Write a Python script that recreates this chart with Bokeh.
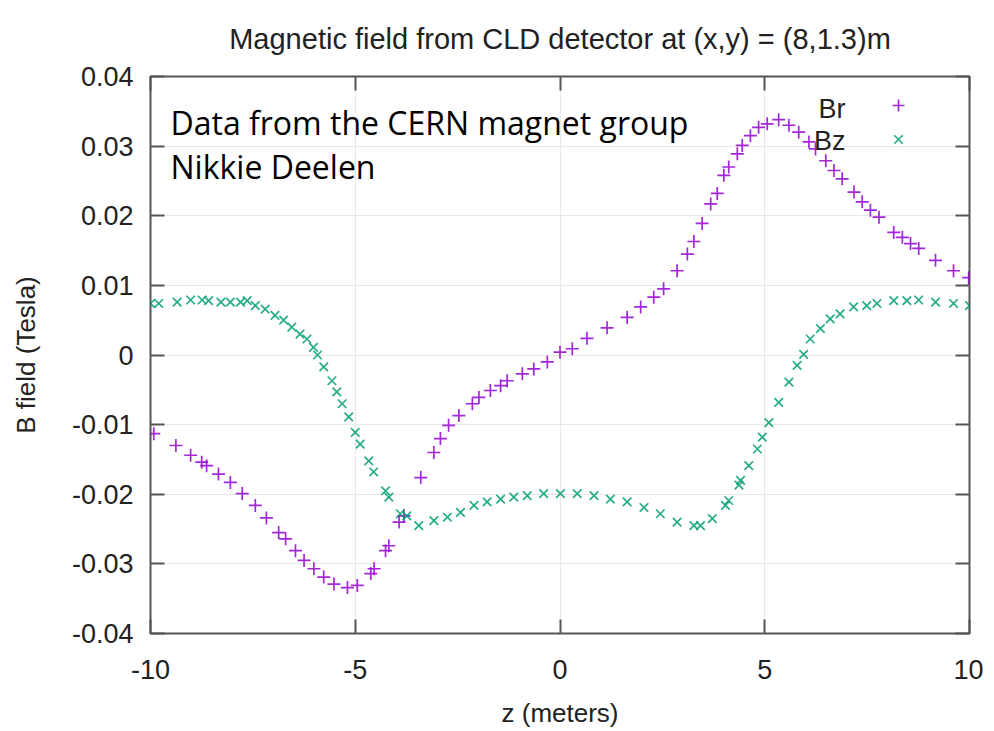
from bokeh.plotting import figure
from bokeh.models import (LinearAxis, FixedTicker, Label, Legend, LegendItem, Range1d)
from bokeh.core.properties import value
from bokeh.embed import file_html
from bokeh.resources import INLINE

# ---------------- data ----------------
br_z = [-9.92, -9.38, -9.02, -8.75, -8.63, -8.34, -8.05, -7.76, -7.44, -7.17,
        -6.87, -6.70, -6.46, -6.25, -6.01, -5.77, -5.52, -5.19, -4.95, -4.62,
        -4.54, -4.26, -4.18, -3.93, -3.81, -3.40, -3.08, -2.92, -2.72, -2.47,
        -2.14, -1.98, -1.70, -1.45, -1.29, -0.92, -0.64, -0.31, 0.00, 0.30,
        0.66, 1.15, 1.64, 1.97, 2.29, 2.53, 2.86, 3.11, 3.27, 3.47,
        3.68, 3.84, 4.00, 4.12, 4.33, 4.45, 4.65, 4.85, 5.06, 5.34,
        5.59, 5.83, 6.08, 6.24, 6.49, 6.69, 6.89, 7.18, 7.38, 7.58,
        7.79, 8.15, 8.36, 8.56, 8.76, 9.17, 9.61, 9.98]
br_b = [-0.0113, -0.0130, -0.0144, -0.0154, -0.0159, -0.0171, -0.0183, -0.0199, -0.0216, -0.0234,
        -0.0255, -0.0264, -0.0281, -0.0295, -0.0307, -0.0319, -0.0329, -0.0334, -0.0331, -0.0314,
        -0.0307, -0.0281, -0.0274, -0.0240, -0.0231, -0.0176, -0.0140, -0.0120, -0.0101, -0.0087,
        -0.0070, -0.0061, -0.0051, -0.0044, -0.0037, -0.0027, -0.0020, -0.0010, 0.0004, 0.0009,
        0.0024, 0.0039, 0.0054, 0.0069, 0.0083, 0.0095, 0.0121, 0.0145, 0.0163, 0.0189,
        0.0217, 0.0232, 0.0258, 0.0270, 0.0289, 0.0301, 0.0315, 0.0327, 0.0332, 0.0338,
        0.0330, 0.0320, 0.0306, 0.0296, 0.0279, 0.0265, 0.0253, 0.0234, 0.0220, 0.0208,
        0.0198, 0.0176, 0.0169, 0.0160, 0.0153, 0.0136, 0.0121, 0.0111]

bz_z = [-10.0, -9.80, -9.35, -9.02, -8.74, -8.58, -8.28, -8.05, -7.80, -7.64,
        -7.44, -7.20, -6.96, -6.75, -6.55, -6.35, -6.18, -6.02, -5.92, -5.77,
        -5.57, -5.45, -5.32, -5.16, -5.00, -4.88, -4.67, -4.55, -4.26, -4.18,
        -3.90, -3.74, -3.45, -3.08, -2.75, -2.43, -2.10, -1.78, -1.45, -1.13,
        -0.80, -0.40, 0.01, 0.42, 0.83, 1.23, 1.64, 2.05, 2.45, 2.86,
        3.27, 3.43, 3.72, 4.04, 4.12, 4.37, 4.41, 4.61, 4.82, 4.94,
        5.10, 5.34, 5.59, 5.79, 5.95, 6.11, 6.36, 6.60, 6.84, 7.17,
        7.49, 7.74, 8.15, 8.47, 8.76, 9.17, 9.61, 10.0]
bz_b = [0.0074, 0.0074, 0.0076, 0.0079, 0.0079, 0.0078, 0.0076, 0.0076, 0.0076, 0.0078,
        0.0071, 0.0066, 0.0057, 0.0050, 0.0040, 0.0030, 0.0023, 0.0011, 0.0000, -0.0017,
        -0.0037, -0.0053, -0.0070, -0.0089, -0.0111, -0.0128, -0.0152, -0.0168, -0.0195, -0.0204,
        -0.0228, -0.0231, -0.0245, -0.0238, -0.0233, -0.0226, -0.0216, -0.0211, -0.0207, -0.0204,
        -0.0202, -0.0199, -0.0199, -0.0199, -0.0202, -0.0207, -0.0211, -0.0219, -0.0228, -0.0240,
        -0.0245, -0.0245, -0.0235, -0.0216, -0.0209, -0.0187, -0.0180, -0.0159, -0.0135, -0.0118,
        -0.0097, -0.0068, -0.0039, -0.0015, 0.0001, 0.0023, 0.0038, 0.0052, 0.0059, 0.0069,
        0.0071, 0.0074, 0.0078, 0.0078, 0.0079, 0.0076, 0.0074, 0.0071]

x_ticks = [-10, -5, 0, 5, 10]
x_tick_labels = ["-10", "-5", "0", "5", "10"]
y_ticks = [-0.04, -0.03, -0.02, -0.01, 0.0, 0.01, 0.02, 0.03, 0.04]
y_tick_labels = ["-0.04", "-0.03", "-0.02", "-0.01", "0", "0.01", "0.02", "0.03", "0.04"]

title_text = "Magnetic field from CLD detector at (x,y) = (8,1.3)m"
x_label = "z (meters)"
y_label = "B field (Tesla)"
note_lines = ["Data from the CERN magnet group", "Nikkie Deelen"]
series_names = ["Br", "Bz"]

# ---------------- styling ----------------
FONT = "Liberation Sans"
TXT = "#222222"
BORDER = "#555555"
PURPLE = "#9400D3"
GREEN = "#009E73"

p = figure(width=983, height=731, output_backend="svg", toolbar_location=None,
           x_range=Range1d(-10, 10), y_range=Range1d(-0.04, 0.04),
           min_border_left=150, min_border_right=14, min_border_top=76, min_border_bottom=98)
p.background_fill_color = "white"
p.border_fill_color = "white"
p.outline_line_color = BORDER
p.outline_line_width = 2

p.title.text = title_text
p.title.align = "center"
p.title.vertical_align = "top"
p.title.text_font = FONT
p.title.text_font_size = "29px"
p.title.text_font_style = "normal"
p.title.text_color = TXT
p.title.standoff = 40

xt = dict(zip([float(v) for v in x_ticks], x_tick_labels))
yt = dict(zip(y_ticks, y_tick_labels))

def style_axis(ax, ticks, overrides, show_labels):
    ax.ticker = FixedTicker(ticks=ticks)
    ax.major_tick_in = 14
    ax.major_tick_out = 0
    ax.minor_tick_line_color = None
    ax.major_tick_line_color = BORDER
    ax.major_tick_line_width = 2
    ax.axis_line_color = None
    ax.major_label_text_font = FONT
    ax.major_label_text_color = TXT
    if show_labels:
        ax.major_label_text_font_size = "27px"
        ax.major_label_overrides = overrides
    else:
        ax.major_label_text_font_size = "12px"
        ax.major_label_overrides = {k: "" for k in overrides}
        ax.major_label_standoff = 0

xa = p.xaxis[0]
ya = p.yaxis[0]
style_axis(xa, x_ticks, xt, True)
style_axis(ya, y_ticks, yt, True)
xa.major_label_standoff = 26
ya.major_label_standoff = 17
xa.axis_label = x_label
ya.axis_label = y_label
for ax in (xa, ya):
    ax.axis_label_text_font = FONT
    ax.axis_label_text_font_size = "26px"
    ax.axis_label_text_font_style = "normal"
    ax.axis_label_text_color = TXT
xa.axis_label_standoff = 16
ya.axis_label_standoff = 28

top_ax = LinearAxis()
right_ax = LinearAxis()
style_axis(top_ax, x_ticks, xt, False)
style_axis(right_ax, y_ticks, yt, False)
p.add_layout(top_ax, "above")
p.add_layout(right_ax, "right")

p.xgrid.ticker = FixedTicker(ticks=x_ticks)
p.ygrid.ticker = FixedTicker(ticks=y_ticks)
p.grid.grid_line_color = "#e8e8e8"
p.grid.grid_line_width = 1

r_br = p.scatter(br_z, br_b, marker="cross", size=13, line_color=PURPLE, line_width=1.7, line_alpha=0.85)
r_bz = p.scatter(bz_z, bz_b, marker="x", size=12, line_color=GREEN, line_width=1.7, line_alpha=0.85)

# annotation text
NOTE_FONT = "Open Sans"
for i, line in enumerate(note_lines):
    p.add_layout(Label(x=20, y=511 - 44 * i, x_units="screen", y_units="screen", text=line,
                       text_font=NOTE_FONT, text_font_size="32px", text_color="black",
                       text_baseline="alphabetic"))

# key: text right-aligned, marker to its right (gnuplot style)
for i, name in enumerate(series_names):
    p.add_layout(Label(x=695, y=525 - 32 * i, x_units="screen", y_units="screen", text=name,
                       text_font=FONT, text_font_size="27px", text_color=TXT,
                       text_align="right", text_baseline="alphabetic"))

legend = Legend(items=[LegendItem(label=value(" "), renderers=[r_br]),
                       LegendItem(label=value(" "), renderers=[r_bz])],
                location=(733, 479), orientation="vertical",
                glyph_width=30, glyph_height=30, label_height=30, label_width=1,
                label_standoff=0, spacing=4, padding=0, margin=0,
                background_fill_alpha=0, border_line_color=None,
                label_text_font_size="1px")
p.add_layout(legend, "center")

open("out.html", "w").write(file_html(p, INLINE))
